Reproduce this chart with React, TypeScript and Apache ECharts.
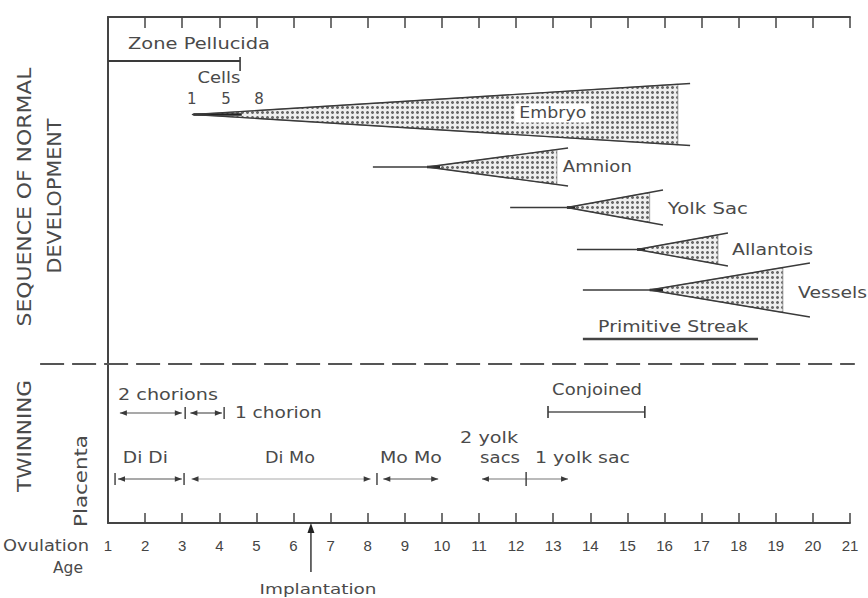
import React, { useEffect, useRef } from 'react';
import * as echarts from 'echarts';

// ---------------- data (days after ovulation) ----------------
const dayMin = 1;
const dayMax = 21;

const zonePellucida = [1, 4.56];
const cellsCaption = 'Cells';
const cellLabels = ['1', '5', '8'];
const cellDays = [3.26, 4.18, 5.07];

const structures = ['Embryo', 'Amnion', 'Yolk Sac', 'Allantois', 'Vessels'];
const leadStart = [3.26, 8.14, 11.84, 13.64, 13.8];
const wedgeTip = [3.3, 9.6, 13.37, 15.26, 15.6];
const fillEnd = [16.36, 13.1, 15.6, 17.44, 19.19];
const wedgeEnd = [16.69, 13.4, 15.96, 17.71, 19.92];

const primitiveStreak = [13.8, 18.52];
const conjoined = [12.86, 15.47];

const chorionLabels = ['2 chorions', '1 chorion'];
const chorionArrows = [[1.32, 2.99], [3.22, 4.07]];
const chorionTicks = [3.08, 4.13];

const placentaLabels = ['Di Di', 'Di Mo', 'Mo Mo'];
const placentaArrows = [[1.27, 2.99], [3.25, 8.08], [8.42, 9.9]];
const placentaTicks = [1.19, 3.05, 8.25];

const yolkSacLabels = ['2 yolk', 'sacs', '1 yolk sac'];
const yolkSacArrow = [11.08, 13.4];
const yolkSacTick = 12.27;

const implantationDay = 6.47;
const dividerSpan = [-0.83, 21.13];

// ---------------- layout (vertical figure units: 0 = top axis, 506 = bottom axis) ----------------
const FONT = '"DejaVu Sans", sans-serif';
const INK = '#3a3a3a';
const TXT = '#4a4a4a';
const Y = {
  zoneText: 27, zoneLine: 44,
  cellsText: 61, cellNums: 82,
  wedge: [97.5, 150, 190.5, 232.5, 273],
  half: [31, 19, 17.5, 16.5, 27],
  streakText: 310, streakLine: 322,
  divider: 347,
  conjText: 373, conjLine: 395,
  chorText: 378, chorLine: 396,
  yolk2: 421, placText: 441, placLine: 462,
  axis: 506, implantBottom: 555, implantText: 572,
};
const wedgeLabelDay = [12.99, 13.26, 16.09, 17.82, 19.6];
const wedgeLabelAlign = ['center', 'left', 'left', 'left', 'left'];
const wedgeLabelY = [96, 150, 192, 233, 276];
const wedgeLabelW = [67, 69, 80, 81, 69];
const placentaLineColor = ['#555', '#aaa', '#555'];

let ctx: CanvasRenderingContext2D | null = null;
function measure(text: string, size: number) {
  if (!ctx) ctx = document.createElement('canvas').getContext('2d');
  ctx!.font = `${size}px "DejaVu Sans"`;
  return ctx!.measureText(text).width;
}

function textEl(api: any, text: string, day: number, y: number, width: number | null, align: string, size = 15, extra: any = {}) {
  const p = api.coord([day, y]);
  return {
    type: 'text', x: p[0], y: p[1],
    scaleX: width ? width / measure(text, size) : 1,
    style: { text, fill: TXT, fontSize: size, fontFamily: FONT, align, verticalAlign: 'middle', ...extra },
  };
}
function lineEl(a: number[], b: number[], color = INK, width = 1.4, dash?: number[]) {
  return { type: 'line', shape: { x1: a[0], y1: a[1], x2: b[0], y2: b[1] }, style: { stroke: color, lineWidth: width, lineDash: dash } };
}
function headEl(p: number[], dir: number, len = 7, hw = 2.8, color = INK) {
  return {
    type: 'polygon',
    shape: { points: [[p[0], p[1]], [p[0] - dir * len, p[1] - hw], [p[0] - dir * len, p[1] + hw]] },
    style: { fill: color },
  };
}
function tickEl(api: any, day: number, y: number, up: number, down: number, width = 1.4) {
  const p = api.coord([day, y]);
  return lineEl([p[0], p[1] - up], [p[0], p[1] + down], INK, width);
}

function makeStipple() {
  const c = document.createElement('canvas');
  c.width = 5; c.height = 5;
  const g = c.getContext('2d')!;
  g.fillStyle = '#eeeeee'; g.fillRect(0, 0, 5, 5);
  g.fillStyle = '#6a6a6a';
  g.fillRect(1, 2, 3, 1);
  g.fillRect(2, 1, 1, 3);
  g.fillStyle = '#b0b0b0';
  g.fillRect(1, 1, 1, 1); g.fillRect(3, 1, 1, 1); g.fillRect(1, 3, 1, 1); g.fillRect(3, 3, 1, 1);
  return { image: c, repeat: 'repeat', imageWidth: 5, imageHeight: 5 };
}

function buildOption() {
  const stipple = makeStipple();
  const custom = (name: string, data: any[], renderItem: any) => ({
    type: 'custom', name, data, clip: false, silent: true, renderItem,
  });

  const series: any[] = [];

  // Wedges
  series.push(custom('Structures', structures.map((_, i) => [leadStart[i], wedgeEnd[i]]), (params: any, api: any) => {
    const i = params.dataIndex;
    const cy = Y.wedge[i], h = Y.half[i];
    const p0 = api.coord([leadStart[i], cy]);
    const tip = api.coord([wedgeTip[i], cy]);
    const eT = api.coord([wedgeEnd[i], cy - h]);
    const eB = api.coord([wedgeEnd[i], cy + h]);
    const f = (fillEnd[i] - wedgeTip[i]) / (wedgeEnd[i] - wedgeTip[i]);
    const fT = [tip[0] + (eT[0] - tip[0]) * f, tip[1] + (eT[1] - tip[1]) * f];
    const fB = [tip[0] + (eB[0] - tip[0]) * f, tip[1] + (eB[1] - tip[1]) * f];
    const dk = api.coord([wedgeTip[i] + (fillEnd[i] - wedgeTip[i]) * 0.1, cy]);
    const label = textEl(api, structures[i], wedgeLabelDay[i], wedgeLabelY[i], wedgeLabelW[i], wedgeLabelAlign[i], 15,
      i === 0 ? { backgroundColor: '#fff', padding: [2, 4] } : {});
    return {
      type: 'group',
      children: [
        { type: 'polygon', shape: { points: [tip, fT, fB] }, style: { fill: stipple, stroke: '#888', lineWidth: 0.8 } },
        lineEl(p0, tip, INK, 1.3),
        lineEl(tip, dk, '#222', 2.6),
        lineEl(tip, eT, INK, 1.4),
        lineEl(tip, eB, INK, 1.4),
        label,
      ],
    };
  }));

  // Zone pellucida
  series.push(custom('Zone Pellucida', [zonePellucida], (params: any, api: any) => {
    const a = api.coord([api.value(0), Y.zoneLine]);
    const b = api.coord([api.value(1), Y.zoneLine]);
    return {
      type: 'group',
      children: [
        lineEl(a, b, INK, 2),
        lineEl([b[0], b[1] - 4], [b[0], b[1] + 10], INK, 1.6),
        textEl(api, 'Zone Pellucida', 1.54, Y.zoneText, 142, 'left'),
      ],
    };
  }));

  // Cells
  series.push(custom('Cells', cellDays.map((d) => [d, Y.cellNums]), (params: any, api: any) => {
    const i = params.dataIndex;
    const children: any[] = [textEl(api, cellLabels[i], cellDays[i], Y.cellNums, null, 'center', 15)];
    if (i === 0) children.push(textEl(api, cellsCaption, 3.99, Y.cellsText, 43, 'center'));
    return { type: 'group', children };
  }));

  // Primitive streak
  series.push(custom('Primitive Streak', [primitiveStreak], (params: any, api: any) => {
    const a = api.coord([api.value(0), Y.streakLine]);
    const b = api.coord([api.value(1), Y.streakLine]);
    return {
      type: 'group',
      children: [lineEl(a, b, '#444', 2.4), textEl(api, 'Primitive Streak', 14.21, Y.streakText, 150, 'left')],
    };
  }));

  // Divider
  series.push(custom('Divider', [dividerSpan], (params: any, api: any) => {
    const a = api.coord([api.value(0), Y.divider]);
    const b = api.coord([api.value(1), Y.divider]);
    return lineEl(a, b, '#555', 2, [24, 8]);
  }));

  // Conjoined
  series.push(custom('Conjoined', [conjoined], (params: any, api: any) => {
    const a = api.coord([api.value(0), Y.conjLine]);
    const b = api.coord([api.value(1), Y.conjLine]);
    return {
      type: 'group',
      children: [
        lineEl(a, b, '#555', 1.6),
        lineEl([a[0], a[1] - 6], [a[0], a[1] + 6], INK, 1.6),
        lineEl([b[0], b[1] - 6], [b[0], b[1] + 6], INK, 1.6),
        textEl(api, 'Conjoined', 12.97, Y.conjText, 90, 'left'),
      ],
    };
  }));

  // Chorions
  series.push(custom('Chorions', chorionArrows, (params: any, api: any) => {
    const i = params.dataIndex;
    const a = api.coord([api.value(0), Y.chorLine]);
    const b = api.coord([api.value(1), Y.chorLine]);
    const children: any[] = [lineEl(a, b, '#555', 1.2), headEl(a, -1), headEl(b, 1), tickEl(api, chorionTicks[i], Y.chorLine, 6, 6)];
    if (i === 0) children.push(textEl(api, chorionLabels[0], 1.27, Y.chorText, 100, 'left'));
    else children.push(textEl(api, chorionLabels[1], 4.42, Y.chorLine, 87, 'left'));
    return { type: 'group', children };
  }));

  // Placenta
  const placentaLabelDay = [1.4, 5.23, 8.33];
  const placentaLabelW = [45, 50, 62];
  series.push(custom('Placenta', placentaArrows, (params: any, api: any) => {
    const i = params.dataIndex;
    const a = api.coord([api.value(0), Y.placLine]);
    const b = api.coord([api.value(1), Y.placLine]);
    return {
      type: 'group',
      children: [
        lineEl(a, b, placentaLineColor[i], 1.2), headEl(a, -1), headEl(b, 1),
        tickEl(api, placentaTicks[i], Y.placLine, 6, 6),
        textEl(api, placentaLabels[i], placentaLabelDay[i], Y.placText, placentaLabelW[i], 'left'),
      ],
    };
  }));

  // Yolk sacs
  series.push(custom('Yolk sacs', [yolkSacArrow], (params: any, api: any) => {
    const a = api.coord([api.value(0), Y.placLine]);
    const b = api.coord([api.value(1), Y.placLine]);
    return {
      type: 'group',
      children: [
        lineEl(a, b, '#777', 1.1), headEl(a, -1), headEl(b, 1),
        tickEl(api, yolkSacTick, Y.placLine, 7, 7),
        textEl(api, yolkSacLabels[0], 10.49, Y.yolk2, 58, 'left'),
        textEl(api, yolkSacLabels[1], 11.03, Y.placText, 40, 'left'),
        textEl(api, yolkSacLabels[2], 12.51, Y.placText, 95, 'left'),
      ],
    };
  }));

  // Implantation
  series.push(custom('Implantation', [[implantationDay, Y.axis]], (params: any, api: any) => {
    const top = api.coord([api.value(0), Y.axis]);
    const bot = api.coord([api.value(0), Y.implantBottom]);
    return {
      type: 'group',
      children: [
        lineEl([top[0], top[1] + 6], bot, INK, 1.5),
        { type: 'polygon', shape: { points: [[top[0], top[1]], [top[0] - 3.5, top[1] + 10], [top[0] + 3.5, top[1] + 10]] }, style: { fill: '#222' } },
        textEl(api, 'Implantation', 6.66, Y.implantText, 117, 'center', 14),
      ],
    };
  }));

  const rot = (text: string, x: number, y: number, len: number, size: number) => ({
    type: 'text', x, y, rotation: Math.PI / 2, scaleX: len / measure(text, size), silent: true,
    style: { text, fontSize: size, fontFamily: FONT, fill: TXT, align: 'center', verticalAlign: 'middle' },
  });
  const flat = (text: string, x: number, y: number, len: number, align: string, size = 15) => ({
    type: 'text', x, y, scaleX: len / measure(text, size), silent: true,
    style: { text, fontSize: size, fontFamily: FONT, fill: TXT, align, verticalAlign: 'middle' },
  });

  return {
    animation: false,
    backgroundColor: '#fff',
    grid: { left: 108, right: 18, top: 17, bottom: 75 },
    xAxis: [
      {
        type: 'value', position: 'bottom', min: dayMin, max: dayMax, interval: 1,
        axisLine: { show: true, onZero: false, lineStyle: { color: '#444', width: 2 } },
        axisTick: { show: true, inside: true, length: 10, lineStyle: { color: '#444', width: 1.5 } },
        axisLabel: { show: true, margin: 15, color: '#444', fontSize: 15, fontFamily: '"Liberation Sans", sans-serif' },
        splitLine: { show: false },
      },
      {
        type: 'value', position: 'top', min: dayMin, max: dayMax, interval: 1,
        axisLine: { show: true, onZero: false, lineStyle: { color: '#444', width: 2 } },
        axisTick: { show: true, inside: true, length: 11, lineStyle: { color: '#444', width: 1.5 } },
        axisLabel: { show: false },
        splitLine: { show: false },
      },
    ],
    yAxis: {
      type: 'value', min: 0, max: 506, inverse: true, position: 'left',
      axisLine: { show: true, onZero: false, lineStyle: { color: '#444', width: 2 } },
      axisTick: { show: false }, axisLabel: { show: false }, splitLine: { show: false },
    },
    graphic: [
      rot('SEQUENCE OF NORMAL', 25, 197, 259, 19),
      rot('DEVELOPMENT', 55, 196, 155, 19),
      rot('TWINNING', 24, 436, 112, 19),
      rot('Placenta', 81, 481, 92, 17),
      flat('Ovulation', 89, 546, 86, 'right'),
      flat('Age', 68, 568, 30, 'center'),
    ],
    series,
  };
}

export default function App() {
  const ref = useRef<HTMLDivElement>(null);
  useEffect(() => {
    document.body.style.margin = '0';
    const chart = echarts.init(ref.current!, undefined, { renderer: 'svg' });
    chart.setOption(buildOption() as any);
    return () => chart.dispose();
  }, []);
  return <div ref={ref} style={{ width: 868, height: 598 }} />;
}
